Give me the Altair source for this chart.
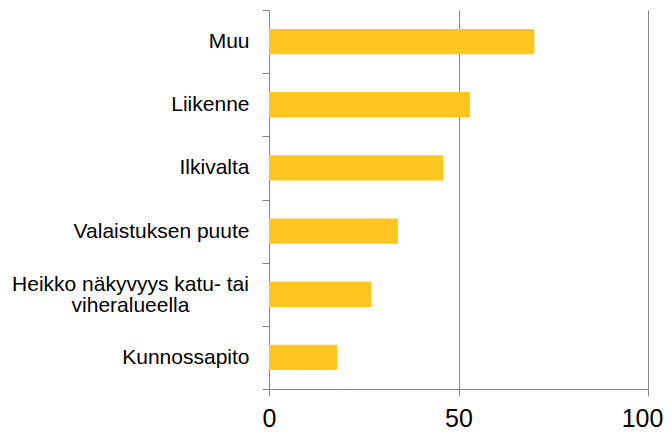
import altair as alt
import pandas as pd

categories = [
    "Muu",
    "Liikenne",
    "Ilkivalta",
    "Valaistuksen puute",
    "Heikko näkyvyys katu- tai viheralueella",
    "Kunnossapito",
]
values = [70, 53, 46, 34, 27, 18]
x_ticks = [0, 50, 100]

df = pd.DataFrame({"category": categories, "value": values})

label_expr = (
    "datum.value == 'Heikko näkyvyys katu- tai viheralueella' "
    "? ['Heikko näkyvyys katu- tai', 'viheralueella'] : datum.value"
)
is_heikko = "datum.value == 'Heikko näkyvyys katu- tai viheralueella'"
is_last = "datum.value == 100"

chart = (
    alt.Chart(df)
    .mark_bar(color="#FFC520", height={"band": 0.4})
    .encode(
        x=alt.X(
            "value:Q",
            scale=alt.Scale(domain=[0, 100], nice=False),
            axis=alt.Axis(
                values=x_ticks,
                title=None,
                grid=True,
                gridColor="#868686",
                gridWidth=1,
                domainColor="#868686",
                tickColor="#868686",
                tickSize=7,
                labelFont="Liberation Sans",
                labelFontSize=25,
                labelColor="#000000",
                labelPadding=10,
                labelFlush=False,
                labelOverlap=False,
                labelOffset=alt.condition(is_last, alt.value(-6), alt.value(0)),
            ),
        ),
        y=alt.Y(
            "category:N",
            sort=categories,
            scale=alt.Scale(paddingInner=0, paddingOuter=0),
            axis=alt.Axis(
                title=None,
                tickBand="extent",
                domainColor="#868686",
                tickColor="#868686",
                tickSize=7,
                labelFont="Liberation Sans",
                labelFontSize=21,
                labelColor="#000000",
                labelLineHeight=21,
                labelExpr=label_expr,
                labelLimit=400,
                labelAlign=alt.condition(is_heikko, alt.value("center"), alt.value("right")),
                labelPadding=alt.condition(is_heikko, alt.value(132), alt.value(13)),
                labelOffset=alt.condition(is_heikko, alt.value(-10), alt.value(0)),
            ),
        ),
    )
    .properties(
        width=379,
        height=379,
        autosize=alt.AutoSizeParams(type="none"),
        padding={"left": 261, "top": 2, "right": 16, "bottom": 44},
    )
    .configure_view(stroke=None)
)

chart.save("out.html", embed_options={"renderer": "svg", "actions": False})
